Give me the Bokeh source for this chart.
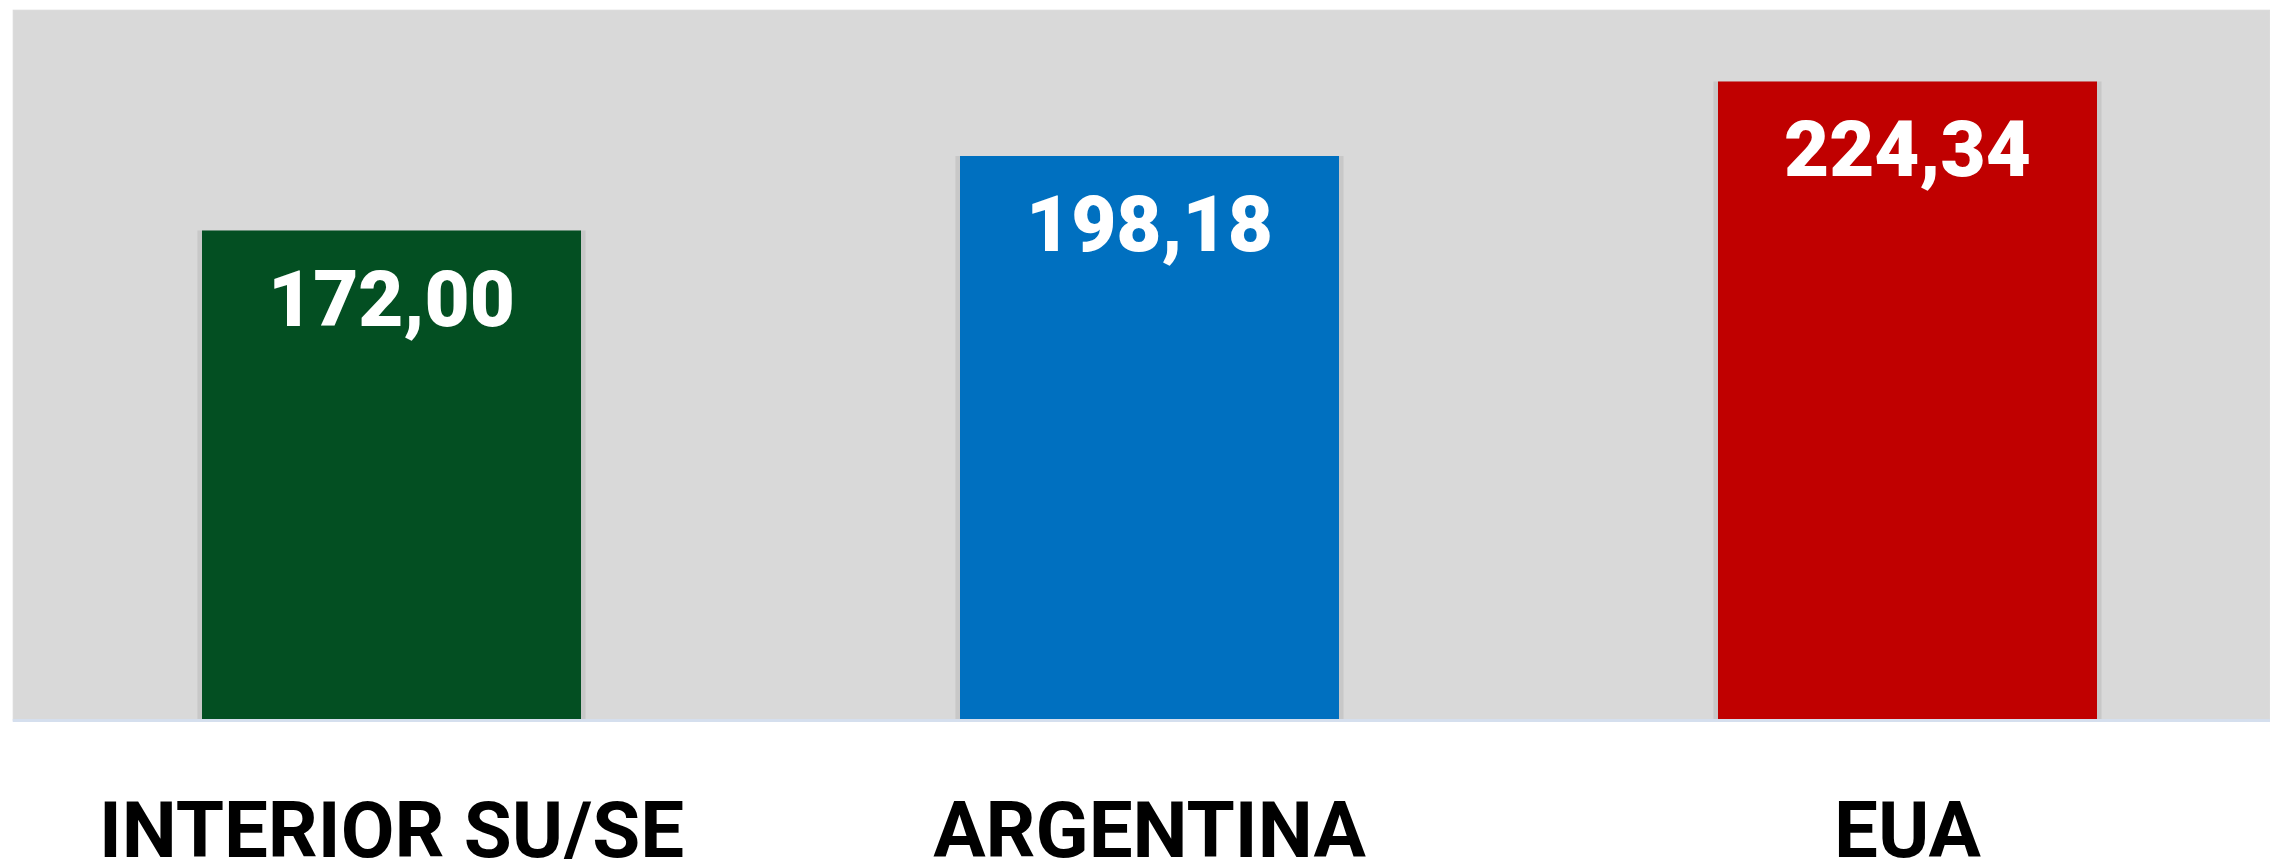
from bokeh.plotting import figure
from bokeh.models import ColumnDataSource, LabelSet, Range1d, BoxAnnotation, Span
from bokeh.core.properties import value
from bokeh.embed import file_html
from bokeh.resources import INLINE

categories = ["INTERIOR SU/SE", "ARGENTINA", "EUA"]
values = [172.00, 198.18, 224.34]
bar_colors = ["#034f22", "#0070c0", "#c00000"]

x_pos = [i + 0.5 for i in range(len(categories))]
value_text = [f"{v:.2f}".replace(".", ",") for v in values]

src = ColumnDataSource(dict(x=x_pos, top=values, color=bar_colors,
                            vlab=value_text, cat=categories,
                            zero=[0] * len(values)))

p = figure(width=2270, height=859,
           x_range=Range1d(0, 2258 / 758), y_range=Range1d(-48.8, 249.6),
           output_backend="svg", toolbar_location=None,
           min_border_left=12, min_border_top=9, min_border_right=0,
           min_border_bottom=0)

p.background_fill_color = "white"
p.border_fill_color = "white"
p.outline_line_color = None
p.grid.visible = False
p.axis.visible = False

# grey plot area
p.add_layout(BoxAnnotation(bottom=0, fill_color="#d9d9d9", fill_alpha=1,
                           line_color="#e9e9e9", line_width=2,
                           level="underlay"))
# baseline
p.add_layout(Span(location=0, dimension="width", line_color="#d5dfee",
                  line_width=3))

# subtle shadow
p.vbar(x="x", top="top", width=0.512, bottom=0, source=src,
       fill_color="#b4b4b4", fill_alpha=0.45, line_color=None)
p.vbar(x="x", top="top", width=0.5, bottom=0, source=src,
       fill_color="color", line_color=None)

vl = LabelSet(x="x", y="top", text="vlab", source=src, y_offset=-95,
              text_align="center", text_baseline="alphabetic",
              text_font=value("Roboto Black"), text_font_style="normal",
              text_font_size="78px", text_color="white")
p.add_layout(vl)

p.text(x="x", y="zero", text="cat", source=src, y_offset=110,
       text_align="center", text_baseline="alphabetic",
       text_font=value("Roboto"), text_font_style="bold",
       text_font_size="78px", text_color="black")

open("out.html", "w").write(file_html(p, INLINE))
